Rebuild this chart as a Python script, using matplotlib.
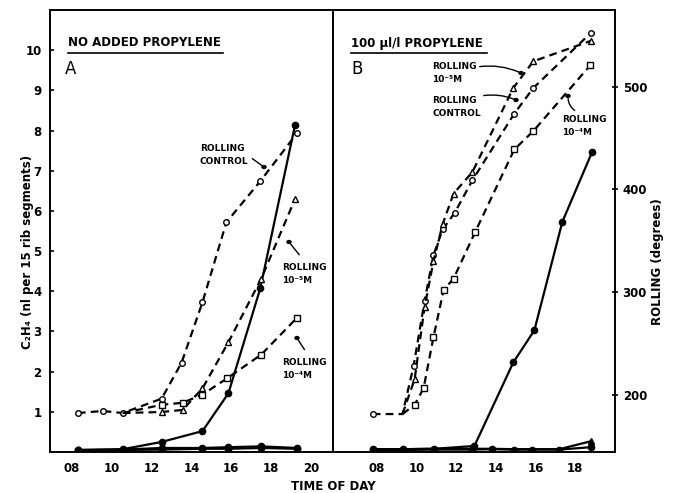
import numpy as np
import matplotlib; matplotlib.use("Agg")
import matplotlib.pyplot as plt

# ---- panel A (no added propylene) : rolling, degrees (right scale) ----
a_ctrl_t = [8.3, 9.55, 10.55, 12.5, 13.5, 14.55, 15.75, 17.45, 19.3]
a_ctrl_r = [182, 184, 182, 196, 231, 290, 368, 408, 455]
a_m5_t = [10.55, 12.5, 13.55, 14.55, 15.85, 17.5, 19.2]      # first point = branch from control
a_m5_r = [182, 183, 185, 206, 251, 313, 391]
a_m4_t = [10.55, 12.5, 13.55, 14.55, 15.8, 17.5, 19.3]
a_m4_r = [182, 190, 192, 200, 216, 239, 275]
# panel A : C2H4 (nl per 15 rib segments, left scale)
a_eth_t = [8.3, 10.55, 12.5, 14.55, 15.85, 17.45, 19.2]
a_eth_ctrl = [0.05, 0.07, 0.25, 0.52, 1.46, 4.07, 8.15]
a_eth_low_t = [8.3, 10.55, 12.5, 14.55, 15.85, 17.5, 19.3]
a_eth_m5 = [0.05, 0.06, 0.10, 0.10, 0.12, 0.14, 0.10]
a_eth_m4 = [0.04, 0.05, 0.06, 0.08, 0.08, 0.10, 0.08]

# ---- panel B (100 ul/l propylene) ----
b_ctrl_t = [7.8, 9.3, 9.86, 10.41, 10.86, 11.32, 11.92, 12.82, 14.93, 15.89, 18.8]
b_ctrl_r = [181, 181, 228, 291, 336, 361, 377, 409, 474, 499, 553]
b_m5_t = [9.3, 9.91, 10.41, 10.86, 11.32, 11.87, 12.82, 14.88, 15.89, 18.8]
b_m5_r = [181, 215, 285, 330, 366, 396, 417, 499, 525, 545]
b_m4_t = [9.3, 9.91, 10.36, 10.86, 11.37, 11.87, 12.97, 14.93, 15.89, 18.75]
b_m4_r = [181, 190, 206, 256, 302, 313, 359, 439, 457, 521]
b_eth_t = [7.8, 9.3, 10.9, 12.92, 14.88, 15.94, 17.35, 18.85]
b_eth_ctrl = [0.07, 0.07, 0.08, 0.15, 2.23, 3.03, 5.73, 7.47]
b_eth_low_t = [7.8, 9.3, 10.9, 12.8, 13.8, 14.9, 15.8, 17.2, 18.8]
b_eth_m5 = [0.07, 0.07, 0.08, 0.08, 0.08, 0.07, 0.07, 0.07, 0.27]
b_eth_m4 = [0.05, 0.05, 0.06, 0.06, 0.07, 0.06, 0.06, 0.06, 0.12]

xticks_a = [8, 10, 12, 14, 16, 18, 20]
xticks_b = [8, 10, 12, 14, 16, 18]
eth_ticks = list(range(1, 11))
roll_ticks = [200, 300, 400, 500]

W, H = 673, 493
fig = plt.figure(figsize=(W / 100, H / 100), dpi=100)
def fr(x, y): return (x / W, 1 - y / H)

axA = fig.add_axes([50 / W, 1 - 452 / H, 283 / W, 442 / H])
axB = fig.add_axes([333 / W, 1 - 452 / H, 282 / W, 442 / H])
rA = axA.twinx(); rB = axB.twinx()

DASH = dict(color="black", lw=1.6, dashes=(3.5, 2.3), mfc="white", mec="black", mew=1.0)
SOLID = dict(color="black", lw=1.6, marker="o", ms=4.5, mfc="black", mec="black")

# panel A
rA.plot(a_ctrl_t, a_ctrl_r, marker="o", ms=4, **DASH)
rA.plot(a_m5_t, a_m5_r, marker="^", ms=4.5, markevery=list(range(1, len(a_m5_t))), **DASH)
rA.plot(a_m4_t, a_m4_r, marker="s", ms=4, markevery=list(range(1, len(a_m4_t))), **DASH)
axA.plot(a_eth_t, a_eth_ctrl, **SOLID)
axA.plot(a_eth_low_t, a_eth_m5, **SOLID)
axA.plot(a_eth_low_t, a_eth_m4, **SOLID)

# panel B
rB.plot(b_ctrl_t, b_ctrl_r, marker="o", ms=4, markevery=[0] + list(range(2, len(b_ctrl_t))), **DASH)
rB.plot(b_m5_t, b_m5_r, marker="^", ms=4.5, markevery=list(range(1, len(b_m5_t))), **DASH)
rB.plot(b_m4_t, b_m4_r, marker="s", ms=4, markevery=list(range(1, len(b_m4_t))), **DASH)
axB.plot(b_eth_t, b_eth_ctrl, **SOLID)
axB.plot(b_eth_low_t, b_eth_m5, color="black", lw=1.6, marker="^", ms=5, markevery=[len(b_eth_low_t) - 1])
axB.plot(b_eth_low_t, b_eth_m4, **SOLID)

TF = dict(fontsize=8.5, fontweight="bold")
for ax, xl, xt in [(axA, (6.9, 21.1), xticks_a), (axB, (5.8, 20.0), xticks_b)]:
    ax.set_xlim(*xl); ax.set_ylim(0, 11.0)
    ax.set_xticks(xt)
    ax.set_xticklabels([f"{t:02d}" for t in xt], **TF)
    ax.tick_params(axis="x", length=0, pad=7)
    for s in ax.spines.values(): s.set_linewidth(1.2)
for r in (rA, rB):
    r.set_ylim(144, 575)
    for s in r.spines.values(): s.set_linewidth(1.2)

axA.set_yticks(eth_ticks)
axA.set_yticklabels([str(v) for v in eth_ticks], **TF)
axA.tick_params(axis="y", length=3, width=1.2, direction="in", pad=6)
axB.set_yticks([])
rA.set_yticks([])
rB.set_yticks(roll_ticks)
rB.set_yticklabels([str(v) for v in roll_ticks], **TF)
rB.tick_params(axis="y", length=5, width=1.2, direction="inout", pad=3)

# axis labels
fig.text(*fr(28, 252), "C\u2082H\u2084 (nl per 15 rib segments)", rotation=90, ha="center", va="center",
         fontsize=8.5, fontweight="bold")
fig.text(*fr(657, 262), "ROLLING (degrees)", rotation=90, ha="center", va="center",
         fontsize=8.5, fontweight="bold")
fig.text(*fr(333, 487), "TIME OF DAY", ha="center", va="center", fontsize=8.5, fontweight="bold")

# panel titles
fig.text(*fr(68, 43), "NO ADDED PROPYLENE", ha="left", va="center", fontsize=8.5, fontweight="bold")
fig.lines.append(plt.Line2D([68 / W, 223 / W], [1 - 53 / H] * 2, color="black", lw=1.2, transform=fig.transFigure))
fig.text(*fr(65, 69), "A", ha="left", va="center", fontsize=12)
fig.text(*fr(351, 43), "100 \u03bcl/l PROPYLENE", ha="left", va="center", fontsize=8.5, fontweight="bold")
fig.lines.append(plt.Line2D([351 / W, 487 / W], [1 - 53 / H] * 2, color="black", lw=1.2, transform=fig.transFigure))
fig.text(*fr(351, 69), "B", ha="left", va="center", fontsize=12)

# curve labels with pointer lines ending in a dot
LBL = dict(fontsize=6.5, fontweight="bold", ha="left", va="center", linespacing=1.5)
def label(txt, tx, ty, p0, p1, rad=0.0):
    fig.text(*fr(tx, ty), txt, **LBL)
    fig.add_artist(matplotlib.patches.FancyArrowPatch(fr(*p0), fr(*p1), transform=fig.transFigure,
                   arrowstyle="-", connectionstyle=f"arc3,rad={rad}", lw=1.0, color="black"))
    fig.add_artist(matplotlib.patches.Circle(fr(*p1), 2.0 / W, transform=fig.transFigure, color="black"))

label("ROLLING\nCONTROL", 200, 155, (250, 157), (264, 167))
label("ROLLING\n10\u207b\u2075M", 282, 274, (301, 257), (289, 242))
label("ROLLING\n10\u207b\u2074M", 282, 369, (306, 352), (297, 338))
label("ROLLING\n10\u207b\u2075M", 432, 73, (477, 67), (521, 73), rad=-0.15)
label("ROLLING\nCONTROL", 432, 107, (481, 96), (516, 100), rad=-0.15)
label("ROLLING\n10\u207b\u2074M", 562, 126, (577, 112), (568, 96), rad=-0.3)

fig.savefig("out.png", dpi=100)
